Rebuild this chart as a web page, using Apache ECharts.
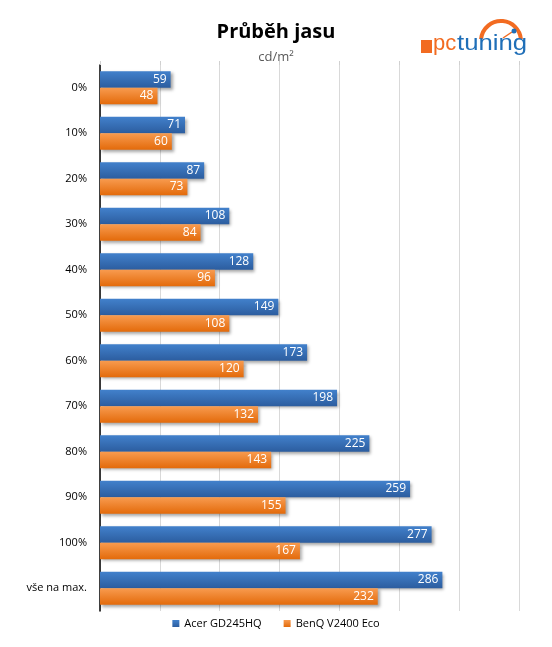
<!DOCTYPE html>
<html><head><meta charset="utf-8">
<script src="https://cdn.jsdelivr.net/npm/echarts@6/dist/echarts.min.js"></script>
<style>html,body{margin:0;padding:0;background:#fff}#c{width:552px;height:647px}</style>
</head><body><div id="c"></div>
<script>
const categories = ['0%','10%','20%','30%','40%','50%','60%','70%','80%','90%','100%','vše na max.'];
const acer = [59,71,87,108,128,149,173,198,225,259,277,286];
const benq = [48,60,73,84,96,108,120,132,143,155,167,232];
const seriesNames = ['Acer GD245HQ','BenQ V2400 Eco'];
const FONT = '"Open Sans", "Noto Sans", sans-serif';

function grad(top, bottom){
  return new echarts.graphic.LinearGradient(0,0,0,1,[{offset:0,color:top},{offset:1,color:bottom}]);
}
const lbl = {show:true, position:'insideRight', color:'#fff', fontSize:12, fontFamily:FONT, distance:4};
const chart = echarts.init(document.getElementById('c'), null, {renderer:'canvas'});
chart.setOption({
  animation:false,
  title:{text:'Průběh jasu', subtext:'cd/m²', left:'center', top:17, itemGap:9,
    textStyle:{fontSize:20, fontWeight:'bold', color:'#000', fontFamily:FONT},
    subtextStyle:{fontSize:13, color:'#595959', fontFamily:FONT}},
  legend:{bottom:13, left:'center', itemWidth:7, itemHeight:7, itemGap:22, icon:'rect',
    textStyle:{fontSize:11, color:'#000', fontFamily:FONT}, data:seriesNames},
  grid:{left:100, right:33, top:65, bottom:36, containLabel:false},
  xAxis:{type:'value', min:0, max:350, interval:50, position:'top',
    axisLine:{show:false}, axisLabel:{show:false},
    axisTick:{show:true, length:4, lineStyle:{color:'#d0d0d0'}},
    splitLine:{show:true, lineStyle:{color:'#d9d9d9', width:1}}},
  yAxis:{type:'category', data:categories, inverse:true,
    axisLine:{show:true, lineStyle:{color:'#000', width:1.5}},
    axisTick:{show:false},
    axisLabel:{color:'#000', fontSize:11, fontFamily:FONT, margin:13}},
  series:[
    {name:seriesNames[0], type:'bar', data:acer, barGap:'0%', barCategoryGap:'27%',
     itemStyle:{color:grad('#4281cc','#2c5d9f'), shadowColor:'rgba(0,0,0,0.35)', shadowBlur:3, shadowOffsetX:2, shadowOffsetY:2},
     label:lbl},
    {name:seriesNames[1], type:'bar', data:benq,
     itemStyle:{color:grad('#f89b4f','#e36a0a'), shadowColor:'rgba(0,0,0,0.35)', shadowBlur:3, shadowOffsetX:2, shadowOffsetY:2},
     label:lbl}
  ],
  graphic:[
    {type:'arc', shape:{cx:501, cy:41, r:20, startAngle:Math.PI*1.03, endAngle:Math.PI*1.97}, style:{stroke:'#f26b21', lineWidth:4, fill:null}},
    {type:'line', shape:{x1:503, y1:38, x2:512, y2:32}, style:{stroke:'#f26b21', lineWidth:1.5}},
    {type:'circle', shape:{cx:514, cy:31, r:2.5}, style:{fill:'#1f6fb8'}},
    {type:'rect', shape:{x:421, y:40, width:11, height:13}, style:{fill:'#f26b21'}},
    {type:'text', x:433, y:33, style:{text:'pc', fill:'#f26b21', font:'22px "Liberation Sans", sans-serif'}},
    {type:'text', x:457, y:33, scaleX:1.17, style:{text:'tuning', fill:'#1f6fb8', font:'22px "Liberation Sans", sans-serif'}}
  ]
});
</script></body></html>
